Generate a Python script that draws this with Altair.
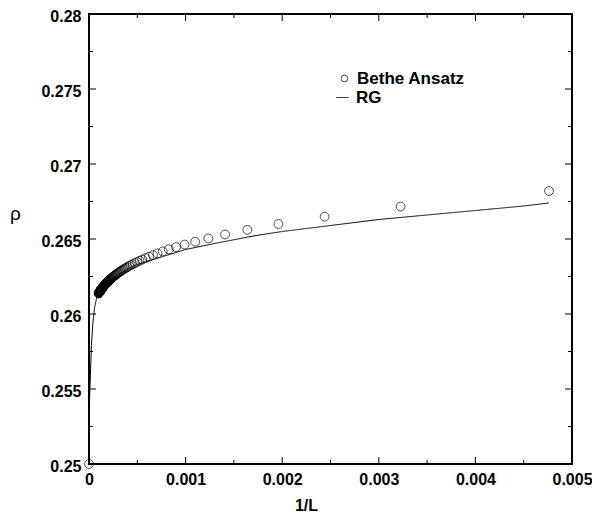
import altair as alt
import pandas as pd

# Bethe Ansatz: system sizes L and densities rho
L_values = [210, 310, 410, 510, 610, 710, 810, 910, 1010, 1110, 1210, 1310, 1410, 1510, 1610,
            1710, 1810, 1910, 2010, 2110, 2210, 2310, 2410, 2510, 2610, 2710, 2810, 2910, 3010,
            3110, 3210, 3310, 3410, 3510, 3610, 3710, 3810, 3910, 4010, 4110, 4210, 4310, 4410,
            4510, 4610, 4710, 4810, 4910, 5010, 5110, 5210, 5310, 5410, 5510, 5610, 5710, 5810,
            5910, 6010, 6110, 6210, 6310, 6410, 6510, 6610, 6710, 6810, 6910, 7010, 7110, 7210,
            7310, 7410, 7510, 7610, 7710, 7810, 7910, 8010, 8110, 8210, 8310, 8410, 8510, 8610,
            8710, 8810, 8910, 9010, 9110, 9210, 9310, 9410, 9510, 9610, 9710, 9810, 9910, 10010]
ba_rho = [0.26820, 0.26716, 0.26649, 0.26600, 0.26561, 0.26530, 0.26504, 0.26482, 0.26463,
          0.26446, 0.26431, 0.26417, 0.26404, 0.26393, 0.26382, 0.26373, 0.26363, 0.26355,
          0.26347, 0.26339, 0.26332, 0.26326, 0.26320, 0.26313, 0.26308, 0.26302, 0.26297,
          0.26292, 0.26287, 0.26283, 0.26278, 0.26274, 0.26270, 0.26266, 0.26262, 0.26258,
          0.26255, 0.26251, 0.26248, 0.26245, 0.26241, 0.26238, 0.26235, 0.26232, 0.26230,
          0.26227, 0.26224, 0.26221, 0.26219, 0.26216, 0.26214, 0.26212, 0.26209, 0.26207,
          0.26205, 0.26202, 0.26200, 0.26198, 0.26196, 0.26194, 0.26192, 0.26190, 0.26188,
          0.26186, 0.26185, 0.26183, 0.26181, 0.26179, 0.26178, 0.26176, 0.26174, 0.26173,
          0.26171, 0.26170, 0.26168, 0.26167, 0.26165, 0.26164, 0.26162, 0.26161, 0.26159,
          0.26158, 0.26157, 0.26155, 0.26154, 0.26152, 0.26151, 0.26150, 0.26149, 0.26147,
          0.26146, 0.26145, 0.26144, 0.26143, 0.26141, 0.26140, 0.26139, 0.26138, 0.26137]
# thermodynamic-limit point
limit_x = [0.0]
limit_rho = [0.25]

# RG curve
rg_x = [0.0, 0.000003, 0.000008, 0.000015, 0.000025, 0.00004, 0.00006, 0.00008, 0.00011,
        0.00015, 0.0002, 0.0003, 0.0004, 0.0005, 0.0006, 0.0008, 0.001, 0.0013, 0.0017,
        0.002, 0.0025, 0.003, 0.0035, 0.004, 0.0045, 0.00476]
rg_rho = [0.25, 0.2535, 0.2548, 0.2560, 0.2579, 0.2594, 0.2605, 0.2611, 0.2615,
          0.2619, 0.2622, 0.2626, 0.2630, 0.2633, 0.2635, 0.2639, 0.2643, 0.2647, 0.2652,
          0.2655, 0.2659, 0.2663, 0.2666, 0.2669, 0.2672, 0.2674]

x_major = [0.0, 0.001, 0.002, 0.003, 0.004, 0.005]
x_minor = [0.0005, 0.0015, 0.0025, 0.0035, 0.0045]
y_major = [0.25, 0.255, 0.26, 0.265, 0.27, 0.275, 0.28]
y_minor = [0.2525, 0.2575, 0.2625, 0.2675, 0.2725, 0.2775]

W, H = 483, 450
FONT = "Liberation Sans"

ba_df = pd.DataFrame({
    "x": [1.0 / L for L in L_values] + limit_x,
    "rho": ba_rho + limit_rho,
    "series": ["Bethe Ansatz"] * (len(L_values) + len(limit_x)),
})
rg_df = pd.DataFrame({"x": rg_x, "rho": rg_rho, "series": ["RG"] * len(rg_x)})

xs = alt.Scale(domain=[0, 0.005], nice=False, zero=False)
ys = alt.Scale(domain=[0.25, 0.28], nice=False, zero=False)

x_axis = alt.Axis(values=x_major, format="~g", title="1/L", titleFontSize=16,
                  titleFontWeight="bold", titleBaseline="middle", titleX=217, titleY=41,
                  labelPadding=7, labelFlush=False, grid=False, ticks=False, domain=False,
                  labelFont=FONT, labelFontWeight="bold", labelFontSize=16, labelColor="black",
                  titleFont=FONT, titleColor="black")
y_axis = alt.Axis(values=y_major, format="~g", title="ρ", titleAngle=0, titleFontSize=19,
                  titleFontWeight="normal", titleAlign="center", titleBaseline="middle",
                  titleX=-74, titleY=199, labelPadding=8, labelFlush=False, grid=False,
                  ticks=False, domain=False, labelOffset=2,
                  labelFont=FONT, labelFontWeight="bold", labelFontSize=16, labelColor="black",
                  titleFont=FONT, titleColor="black")

points = alt.Chart(ba_df).mark_point(filled=False, color="black", size=78, strokeWidth=1).encode(
    x=alt.X("x:Q", scale=xs, axis=x_axis),
    y=alt.Y("rho:Q", scale=ys, axis=y_axis),
    shape=alt.Shape("series:N", scale=alt.Scale(domain=["Bethe Ansatz"], range=["circle"]),
                    legend=alt.Legend(orient="none", legendX=247, legendY=56, title=None,
                                      symbolSize=45, symbolStrokeColor="black",
                                      symbolFillColor="white", symbolStrokeWidth=1,
                                      labelFontSize=17, labelFontWeight="bold", labelFont=FONT,
                                      labelColor="black", labelOffset=4, padding=0)),
)

line = alt.Chart(rg_df).mark_line(color="black", strokeWidth=1).encode(
    x=alt.X("x:Q", scale=xs, axis=x_axis),
    y=alt.Y("rho:Q", scale=ys, axis=y_axis),
    strokeDash=alt.StrokeDash("series:N", scale=alt.Scale(domain=["RG"], range=[[1, 0]]),
                              legend=alt.Legend(orient="none", legendX=245, legendY=75, title=None,
                                                symbolType="stroke", symbolSize=144,
                                                symbolStrokeColor="black", symbolStrokeWidth=1,
                                                labelFontSize=17, labelFontWeight="bold",
                                                labelFont=FONT, labelColor="black",
                                                labelOffset=5, padding=0)),
)

def xticks(vals, length):
    d = pd.DataFrame({"x": vals})
    bottom = alt.Chart(d).mark_rule(color="black", strokeWidth=1).encode(
        x=alt.X("x:Q", scale=xs, axis=x_axis), y=alt.value(H), y2=alt.value(H - length))
    top = alt.Chart(d).mark_rule(color="black", strokeWidth=1).encode(
        x=alt.X("x:Q", scale=xs, axis=x_axis), y=alt.value(0), y2=alt.value(length))
    return [bottom, top]

def yticks(vals, length):
    d = pd.DataFrame({"rho": vals})
    left = alt.Chart(d).mark_rule(color="black", strokeWidth=1).encode(
        y=alt.Y("rho:Q", scale=ys, axis=y_axis), x=alt.value(0), x2=alt.value(length))
    right = alt.Chart(d).mark_rule(color="black", strokeWidth=1).encode(
        y=alt.Y("rho:Q", scale=ys, axis=y_axis), x=alt.value(W), x2=alt.value(W - length))
    return [left, right]

layers = [points, line] + xticks(x_major, 7) + xticks(x_minor, 4) + yticks(y_major, 7) + yticks(y_minor, 4)

chart = alt.layer(*layers).resolve_legend(shape="independent", strokeDash="independent").properties(
    width=W, height=H,
    background="white",
    autosize=alt.AutoSizeParams(type="none"),
    padding={"left": 81, "top": 6, "right": 20, "bottom": 50},
).configure_view(stroke="black", strokeWidth=2).configure_axis(
    labelFont=FONT, labelFontWeight="bold", labelFontSize=16, labelColor="black",
    titleFont=FONT, titleColor="black", domain=False, ticks=False, grid=False,
)

chart.save("out.html", embed_options={"renderer": "svg", "actions": False})
